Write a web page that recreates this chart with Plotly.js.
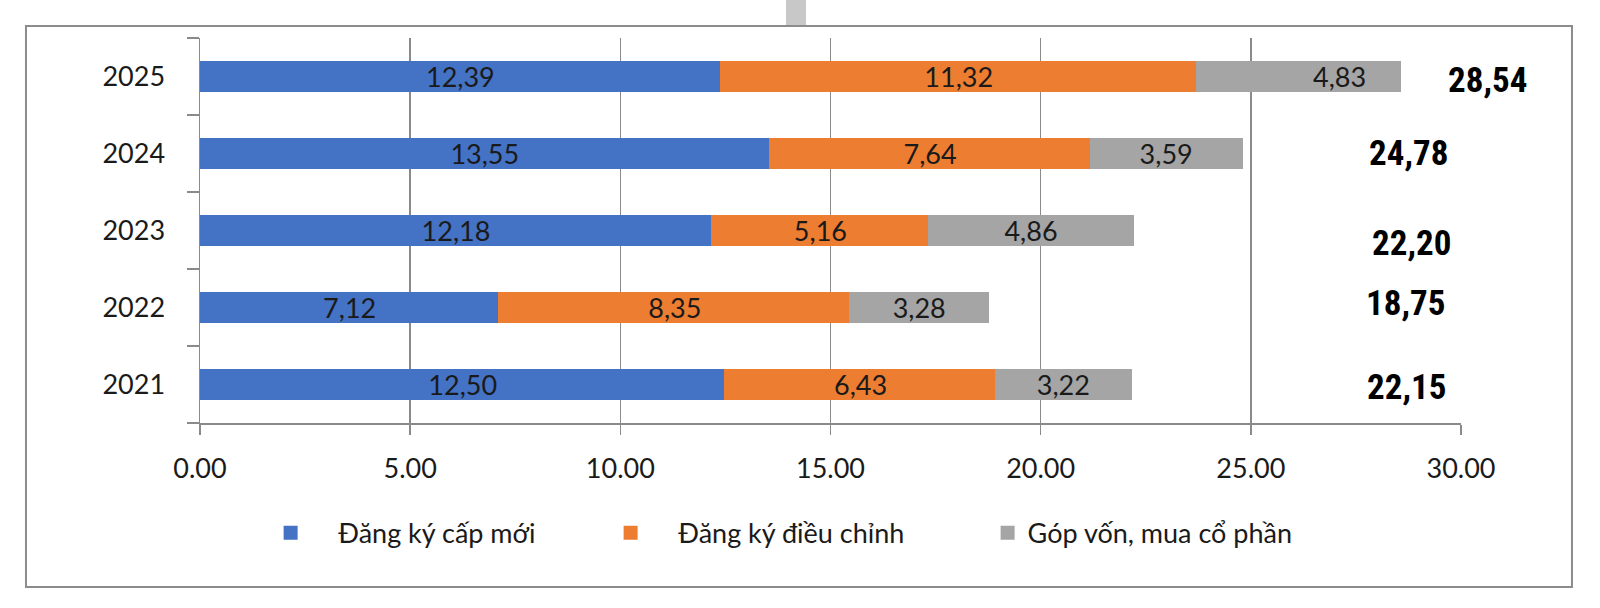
<!DOCTYPE html>
<html>
<head>
<meta charset="utf-8">
<script src="https://cdn.plot.ly/plotly-3.0.1.min.js"></script>
<style>
  html, body { margin: 0; padding: 0; background: #ffffff; }
  #chart { width: 1600px; height: 608px; }
</style>
</head>
<body>
<div id="chart"></div>
<script>
// ---- data ----
const years = ['2021', '2022', '2023', '2024', '2025'];
const dangKyCapMoi = [12.50, 7.12, 12.18, 13.55, 12.39];
const dangKyDieuChinh = [6.43, 8.35, 5.16, 7.64, 11.32];
const gopVonMuaCoPhan = [3.22, 3.28, 4.86, 3.59, 4.83];
const totals = [22.15, 18.75, 22.20, 24.78, 28.54];
const seriesNames = ['Đăng ký cấp mới', 'Đăng ký điều chỉnh', 'Góp vốn, mua cổ phần'];
const xTickVals = [0, 5, 10, 15, 20, 25, 30];

// ---- styling / layout helpers ----
const colors = ['#4472C4', '#ED7D31', '#A5A5A5'];
const fmt = v => v.toFixed(2).replace('.', ',');
const nb = n => '\u00a0'.repeat(n);
const baseFont = 'Lato, Carlito, Calibri, "Noto Sans", sans-serif';
const totalFont = '"Liberation Sans Narrow", "Arial Narrow", "Roboto Condensed", "Liberation Sans", Arial, sans-serif';
const legendPad = [nb(4), nb(4), ''];
const legendWidths = [295, 332, null];
// per-label left padding (number of nbsp) to nudge a bar label right, as in the reference
const barLabelPad = [[0, 0, 0, 0, 0], [0, 0, 0, 0, 0], [0, 0, 0, 0, 12]];
// hand-placed total label positions (paper x) and vertical nudges (px)
const totalLabelX = [0.957, 0.956, 0.961, 0.958, 1.0214];
const totalLabelShift = [-3, 4, -13, 0, -4];

const seriesValues = [dangKyCapMoi, dangKyDieuChinh, gopVonMuaCoPhan];

const traces = seriesValues.map((vals, i) => {
  const t = {
    type: 'bar',
    orientation: 'h',
    name: legendPad[i] + seriesNames[i],
    y: years,
    x: vals,
    text: vals.map((v, j) => nb(barLabelPad[i][j]) + fmt(v)),
    textposition: 'inside',
    insidetextanchor: 'middle',
    textangle: 0,
    constraintext: 'none',
    textfont: { family: baseFont, size: 27, color: '#1a1a1a' },
    marker: { color: colors[i], line: { color: colors[i], width: 2 } },
    hoverinfo: 'skip'
  };
  if (legendWidths[i]) t.legendwidth = legendWidths[i];
  return t;
});

// totals: y given as category index so it stays on the category axis
const annotations = years.map((yr, i) => ({
  xref: 'paper', yref: 'y',
  x: totalLabelX[i], y: i,
  yshift: totalLabelShift[i],
  text: fmt(totals[i]),
  showarrow: false,
  xanchor: 'center', yanchor: 'middle',
  font: { family: totalFont, size: 35, color: '#000000', weight: 'bold' }
}));

const gridCol = '#8a8a8a';

const layout = {
  width: 1600,
  height: 608,
  margin: { l: 200, r: 139, t: 38, b: 185, pad: 0 },
  paper_bgcolor: '#ffffff',
  plot_bgcolor: '#ffffff',
  barmode: 'stack',
  bargap: 0.62,
  showlegend: true,
  legend: {
    orientation: 'h',
    traceorder: 'normal',
    x: 0.056, xanchor: 'left',
    y: -0.286, yanchor: 'middle',
    font: { family: baseFont, size: 27, color: '#1a1a1a' },
    bgcolor: 'rgba(0,0,0,0)',
    borderwidth: 0
  },
  xaxis: {
    range: [0, 30],
    tickvals: xTickVals,
    tickformat: '.2f',
    showgrid: true,
    gridcolor: gridCol,
    gridwidth: 1.5,
    zeroline: false,
    showline: true,
    linecolor: gridCol,
    linewidth: 1.5,
    ticks: 'outside',
    ticklen: 10,
    tickwidth: 1.5,
    tickcolor: gridCol,
    ticklabelstandoff: 11,
    tickfont: { family: baseFont, size: 27, color: '#1a1a1a' },
    fixedrange: true
  },
  yaxis: {
    type: 'category',
    categoryorder: 'array',
    categoryarray: years,
    range: [-0.5, years.length - 0.5],
    showgrid: false,
    zeroline: false,
    showline: true,
    linecolor: gridCol,
    linewidth: 1.5,
    ticks: 'outside',
    tickson: 'boundaries',
    ticklen: 12,
    tickwidth: 1.5,
    tickcolor: gridCol,
    ticklabelstandoff: 28,
    tickfont: { family: baseFont, size: 27, color: '#1a1a1a' },
    fixedrange: true
  },
  annotations: annotations,
  shapes: [
    { type: 'rect', xref: 'paper', yref: 'paper',
      x0: -0.138, x1: 1.088, y0: -0.426, y1: 1.031,
      line: { color: '#8c8c8c', width: 2 }, fillcolor: 'rgba(0,0,0,0)', layer: 'below' },
    { type: 'rect', xref: 'paper', yref: 'paper',
      x0: 0.4647, x1: 0.4806, y0: 1.0338, y1: 1.11,
      line: { width: 0 }, fillcolor: '#c8c8c8', layer: 'above' }
  ]
};

Plotly.newPlot('chart', traces, layout, { staticPlot: true, displayModeBar: false });
</script>
</body>
</html>
